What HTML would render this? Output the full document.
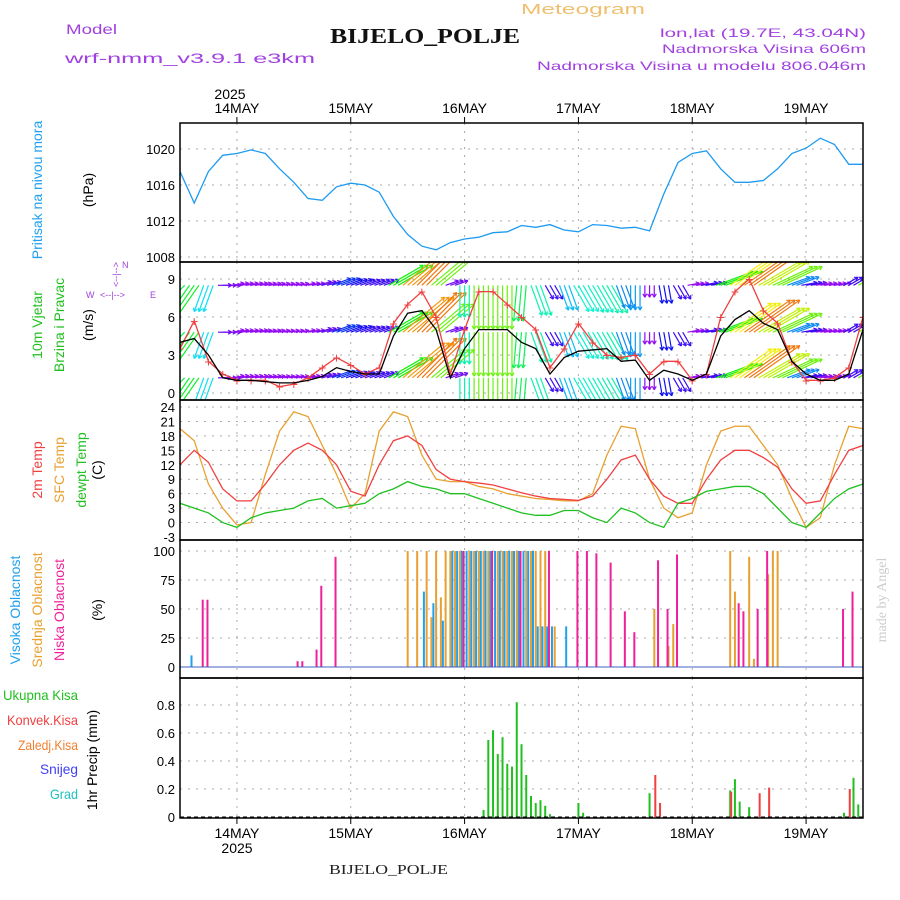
<!DOCTYPE html>
<html><head><meta charset="utf-8"><style>
body{margin:0;background:#fff}
svg{display:block;font-family:"Liberation Sans",sans-serif}
</style></head><body>
<svg id="c" width="900" height="900" viewBox="0 0 900 900">
<text x="521" y="14" font-size="15" fill="#f0c070" textLength="124" lengthAdjust="spacingAndGlyphs">Meteogram</text>
<text x="330" y="43" font-size="21" font-weight="bold" font-family="Liberation Serif" textLength="190" lengthAdjust="spacingAndGlyphs" fill="#111">BIJELO_POLJE</text>
<text x="66" y="34" font-size="14" fill="#a040e0" textLength="51" lengthAdjust="spacingAndGlyphs">Model</text>
<text x="65" y="63" font-size="14" fill="#a040e0" textLength="250" lengthAdjust="spacingAndGlyphs">wrf-nmm_v3.9.1 e3km</text>
<text x="660" y="37" font-size="12" fill="#a040e0" textLength="206" lengthAdjust="spacingAndGlyphs">lon,lat (19.7E, 43.04N)</text>
<text x="662" y="53" font-size="12" fill="#a040e0" textLength="204" lengthAdjust="spacingAndGlyphs">Nadmorska Visina 606m</text>
<text x="537" y="70" font-size="12" fill="#a040e0" textLength="329" lengthAdjust="spacingAndGlyphs">Nadmorska Visina u modelu 806.046m</text>
<text x="230" y="99" font-size="14" text-anchor="middle">2025</text>
<text x="237" y="853" font-size="14" text-anchor="middle">2025</text>
<text x="329" y="874" font-size="14" font-family="Liberation Serif" textLength="119" lengthAdjust="spacingAndGlyphs" fill="#222">BIJELO_POLJE</text>
<text transform="translate(886,600) rotate(-90)" font-size="14" font-family="Liberation Serif" fill="#ccc" text-anchor="middle">made by Angel</text>
<g font-size="14" text-anchor="middle">
<text transform="translate(42,190) rotate(-90)" fill="#20a0f0">Pritisak na nivou mora</text>
<text transform="translate(93,190) rotate(-90)">(hPa)</text>
<text transform="translate(42,325) rotate(-90)" fill="#20c020">10m Vjetar</text>
<text transform="translate(64,325) rotate(-90)" fill="#20c020">Brzina i Pravac</text>
<text transform="translate(93,325) rotate(-90)">(m/s)</text>
<text transform="translate(42,470) rotate(-90)" fill="#f04040">2m Temp</text>
<text transform="translate(64,470) rotate(-90)" fill="#e8a030">SFC Temp</text>
<text transform="translate(86,470) rotate(-90)" fill="#20c020">dewpt Temp</text>
<text transform="translate(102,470) rotate(-90)">(C)</text>
<text transform="translate(20,610) rotate(-90)" fill="#20a0f0">Visoka Oblacnost</text>
<text transform="translate(42,610) rotate(-90)" fill="#e8a030">Srednja Oblacnost</text>
<text transform="translate(64,610) rotate(-90)" fill="#f0209a">Niska Oblacnost</text>
<text transform="translate(102,610) rotate(-90)">(%)</text>
<text transform="translate(97,760) rotate(-90)">1hr Precip (mm)</text>
</g>
<g font-size="14" lengthAdjust="spacingAndGlyphs">
<text x="3" y="700" fill="#20c020" textLength="75" lengthAdjust="spacingAndGlyphs">Ukupna Kisa</text>
<text x="7" y="725" fill="#f04040" textLength="71" lengthAdjust="spacingAndGlyphs">Konvek.Kisa</text>
<text x="18" y="750" fill="#f08030" textLength="60" lengthAdjust="spacingAndGlyphs">Zaledj.Kisa</text>
<text x="40" y="774" fill="#4040f0" textLength="38" lengthAdjust="spacingAndGlyphs">Snijeg</text>
<text x="50" y="799" fill="#20c0c0" textLength="28" lengthAdjust="spacingAndGlyphs">Grad</text>
</g>
<g font-size="9" fill="#a040e0">
<text x="122" y="268">N</text><text x="120" y="282" transform="rotate(-90 122 285)">&lt;--|--&gt;</text>
<text x="86" y="298">W</text><text x="100" y="298">&lt;--|--&gt;</text><text x="150" y="298">E</text>
</g>
<g id="plot"></g>
</svg>
<script>
// ---- data ----
const dayLabels=["14MAY","15MAY","16MAY","17MAY","18MAY","19MAY"];
const pressure=[1017.5,1014,1017.5,1019.3,1019.5,1019.9,1019.5,1017.8,1016.3,1014.5,1014.3,1015.8,1016.2,1016,1015.2,1012.5,1010.5,1009.2,1008.8,1009.6,1010,1010.2,1010.7,1010.8,1011.5,1011.3,1011.6,1011.0,1010.8,1011.6,1011.5,1011.2,1011.3,1010.9,1015,1018.5,1019.5,1019.8,1017.8,1016.3,1016.3,1016.5,1017.8,1019.5,1020.1,1021.2,1020.5,1018.3,1018.3];
const windSpeed=[4,4.3,3,1.2,1,1,0.9,0.8,0.8,1,1.3,2,1.7,1.5,1.5,4.5,6.3,6.5,5,1.2,3.5,5,5,5,4,3.5,1.5,2.8,3.3,3.4,3.5,2.5,2.6,1,1.8,1.5,1,1.5,4.5,5.8,6.5,5.5,5,2.5,1.5,1,1,1.5,5];
const windGust=[3.5,5.7,2.5,1.5,1,1,1,0.5,0.7,1.2,2,2.8,2.2,1.5,2,5.5,7,8,6,1.5,5,8,8,7,6,5,2,3.5,5.5,4,3,2.8,3,1.5,2.5,2.5,1,1.5,6,8,9,6.5,5.5,2.5,1,1,1.2,2,6];
const windDirTo=[225,235,250,0,10,10,10,10,10,10,15,20,20,20,20,30,40,45,40,20,270,270,270,270,265,290,300,290,300,300,300,290,270,270,280,300,10,10,20,35,35,30,25,20,10,10,10,30,30];
const t2m=[12,15,12.5,7,4.5,4.5,8,12,15,16.5,15,12,6.5,5.5,12,17,18,16,11,9,8.5,8.2,7.8,7,6.2,5.5,5,4.8,4.6,5.5,9,13,14,9,5.5,4,4,9,13,15,15,13.5,11.5,7,4,4.5,10,15,16];
const tsfc=[19.5,17,8,3,-0.5,0,10,19,23,22,16,10,3,6,19,23,22,14,9,8.5,8.5,7.5,7,6,5.5,5,4.8,4.5,4.5,6,14,20,19.5,9,3,1,2,12,19,20,20,16,12,5,-1,1,12,20,19.5];
const tdew=[4,3,2,0,-1,1,2,2.5,3,4.5,5,3,3.5,4,6,7,8.5,7.5,7,6,6,5,4,3,2,1.5,1.5,2.5,2.5,1,0,3,2,0,-1,4,5,6.5,7,7.5,7.5,6,3,0,-1,2,5,7,8];
// hourly sparse [hour, value]
const cloudLow=[[5,58],[6,58],[25,5],[26,5],[29,15],[30,70],[33,95],[60,100],[66,100],[72,100],[78,100],[84,100],[86,100],[88,98],[91,90],[94,48],[96,30],[101,92],[103,50],[105,97],[118,55],[119,48],[122,50],[124,100],[140,50],[142,65]];
const cloudMid=[[48,100],[50,100],[52,100],[53,43],[54,100],[55,60],[56,100],[57,100],[58,100],[59,100],[61,100],[62,100],[63,100],[64,100],[65,100],[67,100],[68,100],[69,100],[70,100],[71,100],[73,100],[74,100],[75,100],[76,100],[77,100],[79,35],[100,50],[103,18],[104,37],[116,100],[117,65],[120,95],[121,7],[124,80],[125,100],[126,100]];
const cloudHigh=[[2,10],[51,65],[53,55],[55,40],[57,100],[58,100],[59,100],[60,100],[61,100],[62,100],[63,100],[64,100],[65,100],[66,100],[67,100],[68,100],[69,100],[70,100],[71,100],[72,100],[73,100],[74,100],[75,35],[76,35],[77,35],[78,35],[81,35]];
const precipTotal=[[64,0.05],[65,0.55],[66,0.62],[67,0.45],[68,0.57],[69,0.38],[70,0.36],[71,0.82],[72,0.52],[73,0.3],[74,0.15],[75,0.1],[76,0.12],[77,0.08],[78,0.02],[84,0.1],[85,0.03],[99,0.17],[116,0.19],[117,0.27],[118,0.11],[120,0.07],[140,0.03],[142,0.28],[143,0.09]];
const precipConv=[[100,0.3],[101,0.1],[116,0.18],[122,0.17],[124,0.21],[141,0.2],[144,0.15]];
const pTicks=[1008,1012,1016,1020];
const wTicks=[0,3,6,9];
const tTicks=[-3,0,3,6,9,12,15,18,21,24];
const cTicks=[0,25,50,75,100];
const rTicks=[0,0.2,0.4,0.6,0.8];
// ---- scales ----
const X0=180,X1=863;
const xi=i=>X0+i*(X1-X0)/48;
const xh=h=>X0+h*(X1-X0)/144;
const xd=d=>X0+(d+0.5)*(X1-X0)/6;
const yP=v=>257-(v-1008)*9;
const yW=v=>393-v*12.67;
const yT=v=>537-(v+3)*4.815;
const yC=v=>667-v*1.16;
const yR=v=>817-v*140;
const NS="http://www.w3.org/2000/svg";
const plot=document.getElementById('plot');
function mk(tag,attrs,parent){const e=document.createElementNS(NS,tag);for(const k in attrs)e.setAttribute(k,attrs[k]);(parent||plot).appendChild(e);return e;}
const panels=[[123,262,pTicks,yP,"pressure"],[262,400,wTicks,yW,"wind"],[400,540,tTicks,yT,"temp"],[540,678,cTicks,yC,"cloud"],[678,818,rTicks,yR,"precip"]];
const defs=mk('defs',{});
panels.forEach((p,k)=>{
  const cp=mk('clipPath',{id:'cp'+k},defs);mk('rect',{x:X0,y:p[0],width:X1-X0,height:p[1]-p[0]},cp);
  for(let d=0;d<6;d++){const l=mk('line',{x1:xd(d),x2:xd(d),y1:p[0],y2:p[1],stroke:'#aaa','stroke-dasharray':'2,6'});
    
    }
  p[2].forEach(t=>{const y=p[3](t);
    if(y>p[0]+3&&y<p[1]-3){const g=mk('line',{x1:X0,x2:X1,y1:y,y2:y,stroke:'#aaa','stroke-dasharray':'2,6'});
      
      }
    const tx=mk('text',{x:X0-5,y:y+5,'font-size':13,'text-anchor':'end'});tx.textContent=t;
    
    
  });
});
function line(arr,ys,col,name,k){const pts=arr.map((v,i)=>xi(i)+','+ys(v)).join(' ');
  const e=mk('polyline',{points:pts,fill:'none',stroke:col,'stroke-width':1.3,'clip-path':'url(#cp'+k+')'});
  
  return e;}
line(pressure,yP,'#1e9bf0','pressure-line',0);
// wind arrows
const wg=mk('g',{'clip-path':'url(#cp1)'});
const rows=[8.5,4.8,1.2];
windSpeed.forEach((s,i)=>{
  const hue=Math.max(0,Math.min(275,275-(s-1)*45));const col='hsl('+hue+',90%,50%)';
  const L=s*8+4,a=windDirTo[i]*Math.PI/180;
  for(let r=0;r<3;r++)for(let q=0;q<3;q++){
    const x=xi(i)+q*4.7-4.7,y=yW(rows[r]);const x2=x+L*Math.cos(a),y2=y-L*Math.sin(a);
    const ar=mk('g',{stroke:col,'stroke-width':1.2},wg);
    
    
    mk('line',{x1:x,y1:y,x2:x2,y2:y2},ar);
    for(const d of[2.6,-2.6]){mk('line',{x1:x2,y1:y2,x2:x2-4*Math.cos(a+d*0.2),y2:y2+4*Math.sin(a+d*0.2)},ar);}
  }
});
line(windGust,yW,'#f04040','wind-gust-line',1);
windGust.forEach((v,i)=>{const t=mk('text',{x:xi(i),y:yW(v)+5,'font-size':14,fill:'#f04040','text-anchor':'middle','clip-path':'url(#cp1)'});t.textContent='+';
  
  });
line(windSpeed,yW,'#000','wind-speed-line',1);
line(tsfc,yT,'#e8a030','sfc-temp-line',2);
line(t2m,yT,'#f04040','t2m-line',2);
line(tdew,yT,'#20c020','dewpt-line',2);
function bars(arr,ys,col,name,off,k){arr.forEach(([h,v])=>{const y=ys(v),y0=ys(0);
  const b=mk('rect',{x:xh(h)+off-1,y:y,width:2,height:y0-y,fill:col,'clip-path':'url(#cp'+k+')'});
  
  });}
bars(cloudMid,yC,'#e8a030','mid-cloud-bar',0,3);
bars(cloudHigh,yC,'#20a0f0','high-cloud-bar',2,3);
bars(cloudLow,yC,'#f0209a','low-cloud-bar',-1,3);
const bl=mk('line',{x1:X0,x2:X1,y1:yC(0),y2:yC(0),stroke:'#4060c0','stroke-width':1});

bars(precipTotal,yR,'#20c020','precip-total-bar',0,4);
bars(precipConv,yR,'#f04040','precip-conv-bar',1,4);
const pb=mk('line',{x1:X0,x2:X1,y1:yR(0),y2:yR(0),stroke:'#000','stroke-dasharray':'4,3'});

panels.forEach(p=>{const r=mk('rect',{x:X0,y:p[0],width:X1-X0,height:p[1]-p[0],fill:'none',stroke:'#000','stroke-width':1.5});
  
  });
dayLabels.forEach((d,i)=>{
  for(const y of[113,838]){const t=mk('text',{x:xd(i),y:y,'font-size':14,'text-anchor':'middle'});t.textContent=d;
    
    }
  mk('line',{x1:xd(i),x2:xd(i),y1:123,y2:117,stroke:'#000'});
  mk('line',{x1:xd(i),x2:xd(i),y1:818,y2:824,stroke:'#000'});
});
</script>
</body></html>
